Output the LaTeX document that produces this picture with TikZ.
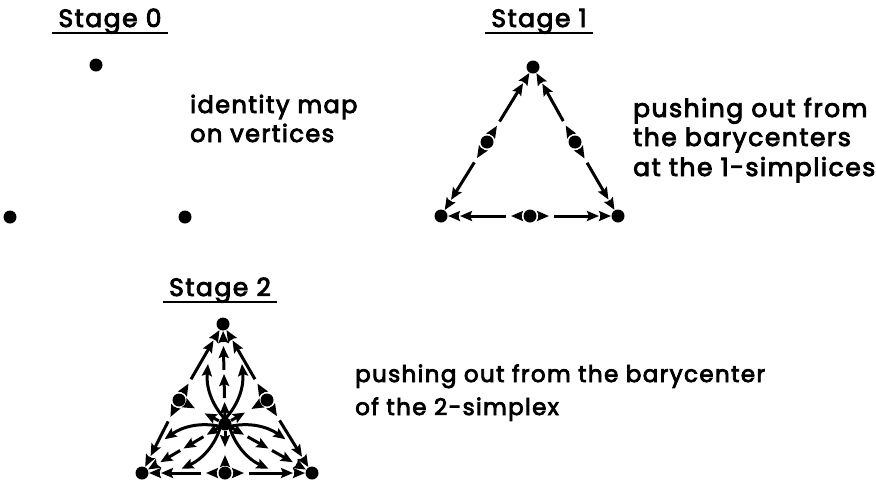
\documentclass[tikz,border=0pt]{standalone}
\usepackage{fontspec}
\setmainfont{Poppins}[LetterSpace=6,FakeBold=3.5]
\usetikzlibrary{calc,arrows.meta}
\newcommand{\halfedge}[2]{%
  \draw[arr] ($(#1)!8pt!(#2)$) -- ($(#1)!19pt!(#2)$);
  \draw[arr] ($(#1)!24pt!(#2)$) -- ($(#2)!19pt!(#1)$);
  \draw[arr] ($(#2)!18pt!(#1)$) -- ($(#2)!7pt!(#1)$);}
\newcommand{\spoke}[2]{%
  \draw[arr] ($(#1)!7pt!(#2)$) -- ($(#1)!0.22!(#2)$);
  \draw[arr] ($(#1)!0.26!(#2)$) -- ($(#1)!0.5!(#2)$);
  \draw[arr] ($(#1)!0.54!(#2)$) -- ($(#1)!0.78!(#2)$);
  \draw[arr] ($(#1)!0.82!(#2)$) -- ($(#2)!7pt!(#1)$);}
\newcommand{\stub}[2]{%
  \draw[arr] ($(#1)!7pt!(#2)$) -- ($(#1)!23pt!(#2)$);
  \draw[arr] ($(#2)!7pt!(#1)$) -- ($(#2)!18pt!(#1)$);}
\begin{document}
\begin{tikzpicture}[x=1pt,y=-1pt,
  dot/.style={circle,fill=black,inner sep=0pt,minimum size=13pt},
  arr/.style={line width=3pt,-{Stealth[length=12pt,width=10pt,inset=2pt]}},
  head/.style={font=\fontsize{25}{30}\selectfont,anchor=base},
  txt/.style={font=\fontsize{24}{29}\selectfont,anchor=base west,inner sep=0pt},
  txtb/.style={txt,font=\fontsize{25}{29}\selectfont},
  txtc/.style={txt,font=\fontsize{23}{29}\selectfont},
  uline/.style={line width=2.2pt}]
\useasboundingbox (0,0) rectangle (876,483);
% ---------- Stage 0
\node[head] (h0) at (110,27) {Stage 0};
\draw[uline] ([xshift=-3pt,yshift=-6pt]h0.base west) -- ([xshift=3pt,yshift=-6pt]h0.base east);
\node[dot] (a0) at (96,65) {};
\node[dot] (b0) at (10,217) {};
\node[dot] (c0) at (185,217) {};
\node[txt] (t0a) at (190,113) {identity map};
\node[txt] (t0b) at (190,142) {on vertices};
% ---------- Stage 1
\node[head] (h1) at (539,27) {Stage 1};
\draw[uline] ([xshift=-3pt,yshift=-6pt]h1.base west) -- ([xshift=3pt,yshift=-6pt]h1.base east);
\node[dot] (a1) at (533,67) {};
\node[dot] (b1) at (441,216) {};
\node[dot] (c1) at (618,216) {};
\node[dot] (l1) at (487,142) {};
\node[dot] (r1) at (575,142) {};
\node[dot] (d1) at (530,216) {};
\halfedge{l1}{a1}\halfedge{l1}{b1}
\halfedge{r1}{a1}\halfedge{r1}{c1}
\halfedge{d1}{b1}\halfedge{d1}{c1}
\node[txtb] (t1a) at (633,117) {pushing out from};
\node[txtb] (t1b) at (633,146) {the barycenters};
\node[txtb] (t1c) at (633,176) {at the 1-simplices};
% ---------- Stage 2
\node[head] (h2) at (220,296) {Stage 2};
\draw[uline] ([xshift=-3pt,yshift=-6pt]h2.base west) -- ([xshift=3pt,yshift=-6pt]h2.base east);
\node[dot] (a2) at (223,324) {};
\node[dot] (b2) at (142,473) {};
\node[dot] (c2) at (312,473) {};
\node[dot] (l2) at (179,400) {};
\node[dot] (r2) at (267,400) {};
\node[dot] (d2) at (225,473) {};
\node[dot] (m2) at (225,424) {};
\halfedge{l2}{a2}\halfedge{l2}{b2}
\halfedge{r2}{a2}\halfedge{r2}{c2}
\halfedge{d2}{b2}\halfedge{d2}{c2}
\spoke{m2}{a2}\spoke{m2}{b2}\spoke{m2}{c2}
\stub{m2}{l2}\stub{m2}{r2}\stub{m2}{d2}
\foreach \ang in {0,120,240}{
  \begin{scope}[shift={(m2)},rotate=\ang]
    \coordinate (e1) at (-17,-60);
    \coordinate (e2) at (17,-60);
    \draw[arr] (0,-5) .. controls (-14,-20) and (-19,-38) .. (e1);
    \draw[arr] (0,-5) .. controls (14,-20) and (19,-38) .. (e2);
  \end{scope}}
\node[txtc] (t2a) at (355,382) {pushing out from the barycenter};
\node[txtc] (t2b) at (355,415) {of the 2-simplex};
\end{tikzpicture}
\end{document}
